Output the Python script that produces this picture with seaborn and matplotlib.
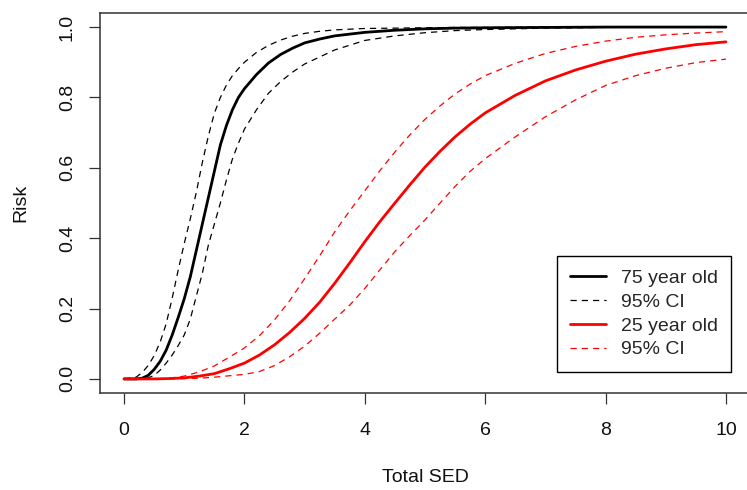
import matplotlib
matplotlib.use("Agg")
import matplotlib.pyplot as plt
import pandas as pd
import seaborn as sns

# Risk curves against total SED, with 95% confidence bands
sed_old = [0.0, 0.2, 0.3, 0.4, 0.5, 0.6, 0.7, 0.8, 0.9, 1.0, 1.1, 1.2, 1.3, 1.4,
           1.5, 1.6, 1.7, 1.8, 1.9, 2.0, 2.2, 2.4, 2.6, 2.8, 3.0, 3.25, 3.5,
           4.0, 4.5, 5.0, 5.5, 6.0, 7.0, 8.0, 9.0, 10.0]
risk_old = [0.0, 0.0, 0.002, 0.010, 0.027, 0.050, 0.082, 0.125, 0.175, 0.228,
            0.290, 0.365, 0.440, 0.515, 0.590, 0.665, 0.720, 0.765, 0.800,
            0.825, 0.865, 0.898, 0.922, 0.940, 0.955, 0.966, 0.975, 0.985,
            0.991, 0.995, 0.997, 0.998, 0.999, 1.0, 1.0, 1.0]

sed_old_ci = [0.0, 0.2, 0.3, 0.4, 0.5, 0.6, 0.7, 0.8, 0.9, 1.0, 1.1, 1.2, 1.3,
              1.4, 1.5, 1.6, 1.7, 1.8, 1.9, 2.0, 2.2, 2.4, 2.6, 2.8, 3.0, 3.25,
              3.5, 4.0, 4.5, 5.0, 5.5, 6.0, 7.0, 8.0, 9.0, 10.0]
risk_old_hi = [0.0, 0.005, 0.018, 0.038, 0.066, 0.105, 0.157, 0.230, 0.310,
               0.385, 0.455, 0.530, 0.615, 0.690, 0.755, 0.800, 0.835, 0.862,
               0.882, 0.900, 0.928, 0.948, 0.963, 0.974, 0.982, 0.988, 0.992,
               0.996, 0.997, 0.998, 0.999, 0.999, 1.0, 1.0, 1.0, 1.0]
risk_old_lo = [0.0, 0.0, 0.0, 0.003, 0.010, 0.025, 0.045, 0.068, 0.095, 0.125,
               0.170, 0.235, 0.300, 0.380, 0.440, 0.500, 0.565, 0.625, 0.670,
               0.710, 0.765, 0.812, 0.845, 0.872, 0.895, 0.915, 0.935, 0.962,
               0.975, 0.984, 0.990, 0.993, 0.997, 0.999, 1.0, 1.0]

sed_young = [0.0, 0.5, 0.75, 1.0, 1.25, 1.5, 1.75, 2.0, 2.25, 2.5, 2.75, 3.0,
             3.25, 3.5, 3.75, 4.0, 4.25, 4.5, 4.75, 5.0, 5.25, 5.5, 5.75, 6.0,
             6.5, 7.0, 7.5, 8.0, 8.5, 9.0, 9.5, 10.0]
risk_young = [0.0, 0.0, 0.001, 0.003, 0.008, 0.015, 0.029, 0.045, 0.068, 0.097,
              0.132, 0.172, 0.218, 0.272, 0.330, 0.390, 0.447, 0.500, 0.552,
              0.602, 0.647, 0.688, 0.724, 0.756, 0.806, 0.847, 0.878, 0.903,
              0.923, 0.938, 0.950, 0.958]
risk_young_hi = [0.0, 0.0, 0.002, 0.008, 0.020, 0.037, 0.062, 0.088, 0.123,
                 0.168, 0.222, 0.285, 0.350, 0.418, 0.478, 0.535, 0.592, 0.645,
                 0.694, 0.738, 0.776, 0.810, 0.838, 0.862, 0.897, 0.925, 0.945,
                 0.960, 0.971, 0.978, 0.983, 0.987]
risk_young_lo = [0.0, 0.0, 0.0, 0.001, 0.002, 0.005, 0.009, 0.013, 0.021, 0.038,
                 0.063, 0.093, 0.130, 0.170, 0.210, 0.257, 0.310, 0.362, 0.408,
                 0.452, 0.500, 0.547, 0.590, 0.626, 0.688, 0.745, 0.793, 0.834,
                 0.862, 0.883, 0.899, 0.909]

x_ticks = [0, 2, 4, 6, 8, 10]
y_ticks = [0.0, 0.2, 0.4, 0.6, 0.8, 1.0]
legend_labels = ["75 year old", "95% CI", "25 year old", "95% CI"]

sns.set_style("white")
plt.rcParams["font.family"] = ["Liberation Sans", "DejaVu Sans"]
plt.rcParams["font.size"] = 14

fig = plt.figure(figsize=(7.47, 4.90), dpi=100)
ax = fig.add_axes([100 / 747, 1 - 393 / 490, 650 / 747, 380 / 490])

dash = (5, 4)
solid_lw = 2.0
dash_lw = 0.9

series = [
    (sed_old, risk_old, "black", solid_lw, "", legend_labels[0]),
    (sed_old_ci, risk_old_lo, "black", dash_lw, dash, legend_labels[1]),
    (sed_old_ci, risk_old_hi, "black", dash_lw, dash, None),
    (sed_young, risk_young, "red", solid_lw, "", legend_labels[2]),
    (sed_young, risk_young_lo, "red", dash_lw, dash, legend_labels[3]),
    (sed_young, risk_young_hi, "red", dash_lw, dash, None),
]

for xs, ys, col, lw, ds, lab in series:
    df = pd.DataFrame({"sed": xs, "risk": ys})
    line_kw = dict(color=col, linewidth=lw, estimator=None, ax=ax)
    if lab is not None:
        line_kw["label"] = lab
    sns.lineplot(data=df, x="sed", y="risk", **line_kw)
    if ds:
        ax.lines[-1].set_dashes(ds)

ax.set_xlim(-0.4, 10.4)
ax.set_ylim(-0.04, 1.04)
ax.set_xticks(x_ticks)
ax.set_yticks(y_ticks)
ax.set_xticklabels([str(t) for t in x_ticks])
ax.set_yticklabels([f"{t:.1f}" for t in y_ticks])
ax.tick_params(axis="both", which="major", bottom=True, left=True,
               direction="out", length=7.9, width=0.9,
               color="#333333", labelsize=14, labelcolor="#111111")
ax.tick_params(axis="x", pad=13)
ax.tick_params(axis="y", pad=9.5, labelrotation=90)
for lab in ax.get_yticklabels():
    lab.set_va("center")

for sp in ax.spines.values():
    sp.set_color("#333333")
    sp.set_linewidth(1.1)

ax.set_xlabel("Total SED", fontsize=14, color="#111111")
ax.set_ylabel("Risk", fontsize=14, color="#111111")
ax.xaxis.set_label_coords(0.5, -0.200)
ax.yaxis.set_label_coords(-0.108, 0.5)

leg = ax.legend(loc="upper right", bbox_to_anchor=(731 / 747, 1 - 256 / 490),
                bbox_transform=fig.transFigure, borderaxespad=0,
                fontsize=14, frameon=True, fancybox=False, framealpha=1,
                edgecolor="black", handlelength=1.85, handletextpad=0.75,
                labelspacing=0.32, borderpad=0.68)
leg.get_frame().set_linewidth(1.0)

fig.savefig("out.png", dpi=100)
